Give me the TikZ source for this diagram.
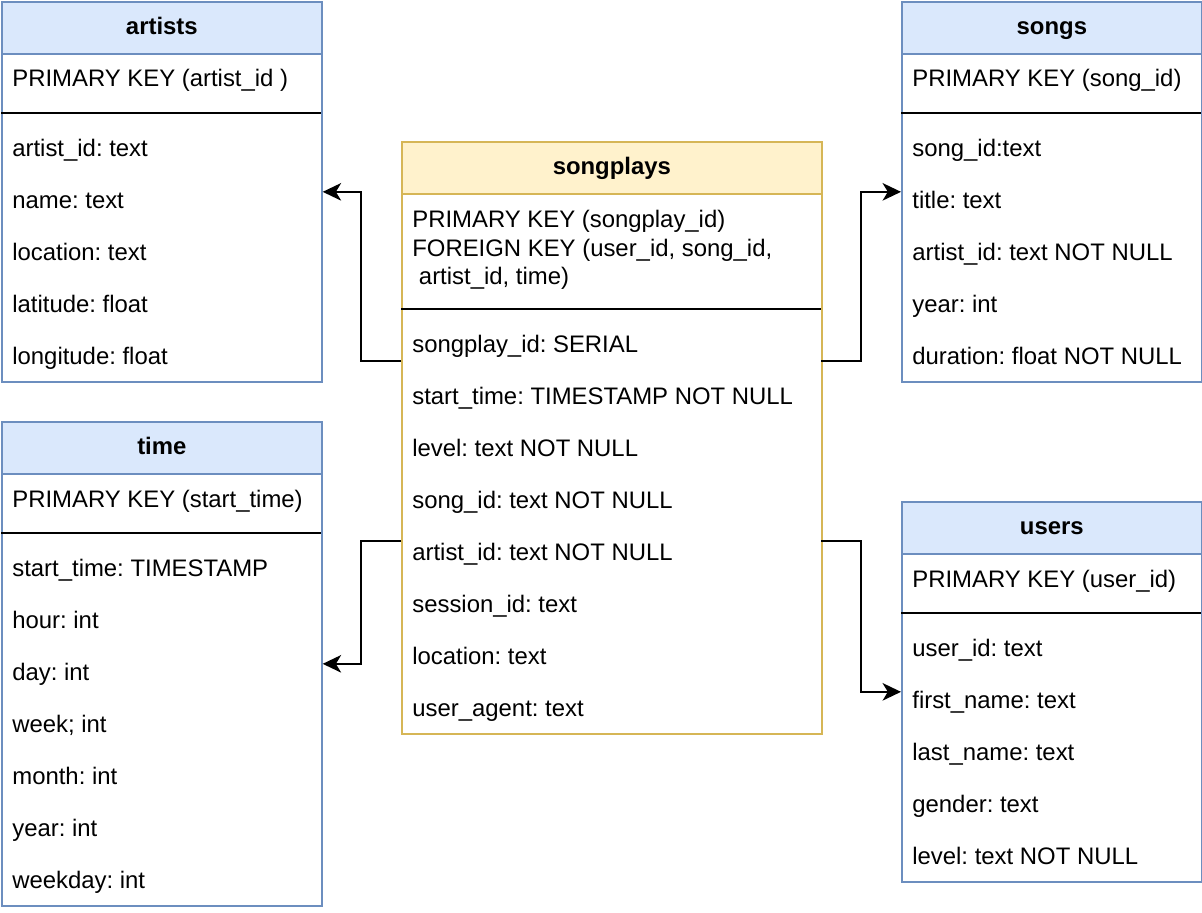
\documentclass[tikz,border=0pt]{standalone}
\usepackage{fontspec}
\setmainfont{Liberation Sans}
\usetikzlibrary{arrows.meta}
\definecolor{tableline}{HTML}{6C8EBF}
\definecolor{tablefill}{HTML}{DAE8FC}
\definecolor{factline}{HTML}{D6B656}
\definecolor{factfill}{HTML}{FFF2CC}
\frenchspacing

\begin{document}
\begin{tikzpicture}[x=0.02cm,y=-0.02cm]
    \tikzset{every node/.style = {font=\fontsize{13.6}{16.4}\selectfont}}
    \tikzset{table/.style = {shape=rectangle, draw=tableline, line width=1pt, fill=white, anchor=north west, inner sep=0pt}}
    \tikzset{head/.style = {table, fill=tablefill, minimum height=1.04cm, text height=7.9pt, text depth=0pt, font=\fontsize{13.6}{16.4}\selectfont\bfseries}}
    \tikzset{fact/.style = {draw=factline}}
    \tikzset{facthead/.style = {draw=factline, fill=factfill}}
    \tikzset{field/.style = {anchor=base west, inner sep=0pt}}
    \tikzset{sep/.style = {draw=black, line width=1pt}}
    \tikzset{edge/.style = {draw=black, line width=1pt, -{Stealth[length=10.5pt, width=10pt, inset=3pt]}}}

    \useasboundingbox (0,0) rectangle (1202,912);

    % tables
    \node[table, minimum width=6.4cm, minimum height=7.6cm] (artists) at (1,1) {};
    \node[head, minimum width=6.4cm] (artistsHead) at (1,1) {artists};
    \draw[sep] (1,113) -- (321,113);

    \node[table, minimum width=6cm, minimum height=7.6cm] (songs) at (901,1) {};
    \node[head, minimum width=6cm] (songsHead) at (901,1) {songs};
    \draw[sep] (901,113) -- (1201,113);

    \node[table, minimum width=6.4cm, minimum height=9.68cm] (time) at (1,421) {};
    \node[head, minimum width=6.4cm] (timeHead) at (1,421) {time};
    \draw[sep] (1,533) -- (321,533);

    \node[table, minimum width=6cm, minimum height=7.6cm] (users) at (901,501) {};
    \node[head, minimum width=6cm] (usersHead) at (901,501) {users};
    \draw[sep] (901,613) -- (1201,613);

    \node[table, fact, minimum width=8.4cm, minimum height=11.84cm] (songplays) at (401,141) {};
    \node[head, facthead, minimum width=8.4cm] (songplaysHead) at (401,141) {songplays};
    \draw[sep] (401,309) -- (821,309);

    % fields
    \node[field] (artistsKey) at (12,87)  {PRIMARY KEY (artist\_id )};
    \node[field] (artists1) at (12,156) {artist\_id: text};
    \node[field] (artists2) at (12,208) {name: text};
    \node[field] (artists3) at (12,260) {location: text};
    \node[field] (artists4) at (12,312) {latitude: float};
    \node[field] (artists5) at (12,364) {longitude: float};

    \node[field] (songsKey) at (912,87)  {PRIMARY KEY (song\_id)};
    \node[field] (songs1) at (912,156) {song\_id:text};
    \node[field] (songs2) at (912,208) {title: text};
    \node[field] (songs3) at (912,260) {artist\_id: text NOT NULL};
    \node[field] (songs4) at (912,312) {year: int};
    \node[field] (songs5) at (912,364) {duration: float NOT NULL};

    \node[field] (timeKey) at (12,507) {PRIMARY KEY (start\_time)};
    \node[field] (time1) at (12,576) {start\_time: TIMESTAMP};
    \node[field] (time2) at (12,628) {hour: int};
    \node[field] (time3) at (12,680) {day: int};
    \node[field] (time4) at (12,732) {week; int};
    \node[field] (time5) at (12,784) {month: int};
    \node[field] (time6) at (12,836) {year: int};
    \node[field] (time7) at (12,888) {weekday: int};

    \node[field] (usersKey) at (912,587) {PRIMARY KEY (user\_id)};
    \node[field] (users1) at (912,656) {user\_id: text};
    \node[field] (users2) at (912,708) {first\_name: text};
    \node[field] (users3) at (912,760) {last\_name: text};
    \node[field] (users4) at (912,812) {gender: text};
    \node[field] (users5) at (912,864) {level: text NOT NULL};

    \node[field] (songplaysKey1) at (412,227) {PRIMARY KEY (songplay\_id)};
    \node[field] (songplaysKey2) at (412,256) {FOREIGN KEY (user\_id, song\_id,};
    \node[field] (songplaysKey3) at (412,284) {\ artist\_id, time)};
    \node[field] (songplays1) at (412,352) {songplay\_id: SERIAL};
    \node[field] (songplays2) at (412,404) {start\_time: TIMESTAMP NOT NULL};
    \node[field] (songplays3) at (412,456) {level: text NOT NULL};
    \node[field] (songplays4) at (412,508) {song\_id: text NOT NULL};
    \node[field] (songplays5) at (412,560) {artist\_id: text NOT NULL};
    \node[field] (songplays6) at (412,612) {session\_id: text};
    \node[field] (songplays7) at (412,664) {location: text};
    \node[field] (songplays8) at (412,716) {user\_agent: text};

    % edges
    \coordinate (toArtists) at (401,361);
    \coordinate (toSongs) at (821,361);
    \coordinate (toTime) at (401,541);
    \coordinate (toUsers) at (821,541);
    \draw[edge] (toArtists) -- ++(-40,0) |- (artists.east);
    \draw[edge] (toSongs) -- ++(40,0) |- (songs.west);
    \draw[edge] (toTime) -- ++(-40,0) |- (time.east);
    \draw[edge] (toUsers) -- ++(40,0) |- (users.west);
\end{tikzpicture}
\end{document}
